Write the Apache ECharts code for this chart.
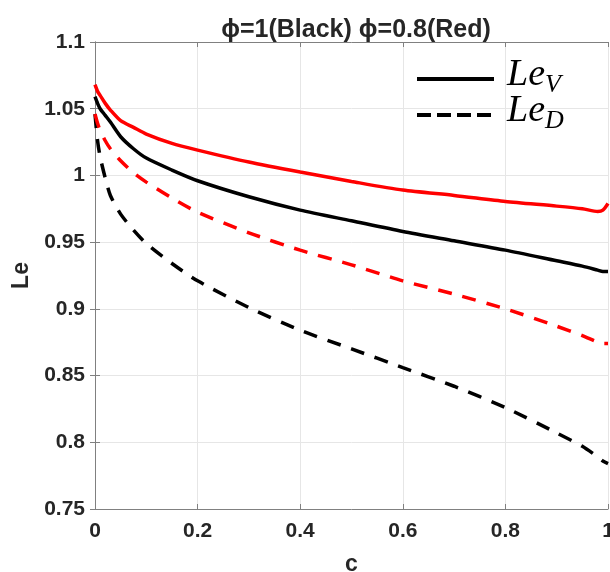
<!DOCTYPE html>
<html>
<head>
<meta charset="utf-8">
<script src="https://cdn.jsdelivr.net/npm/echarts@6/dist/echarts.min.js"></script>
<style>
  html, body { margin: 0; padding: 0; background: #fff; }
  #main { width: 610px; height: 572px; }
</style>
</head>
<body>
<div id="main"></div>
<script>
// c values shared by all curves
var cVals = [0, 0.005, 0.01, 0.02, 0.03, 0.05, 0.075, 0.1, 0.15, 0.2, 0.3, 0.4, 0.5, 0.6, 0.7, 0.8, 0.9, 0.95, 0.98, 0.99, 1.0];
// phi = 1 (black)
var leV_phi1 = [1.059, 1.054, 1.050, 1.045, 1.040, 1.029, 1.020, 1.013, 1.004, 0.996, 0.984, 0.974, 0.966, 0.958, 0.951, 0.944, 0.936, 0.932, 0.929, 0.928, 0.928];
var leD_phi1 = [1.046, 1.026, 1.014, 0.998, 0.985, 0.971, 0.959, 0.949, 0.934, 0.921, 0.901, 0.884, 0.870, 0.856, 0.842, 0.826, 0.807, 0.797, 0.789, 0.786, 0.784];
// phi = 0.8 (red)
var leV_phi08 = [1.068, 1.063, 1.060, 1.054, 1.049, 1.041, 1.036, 1.031, 1.024, 1.019, 1.010, 1.0025, 0.9955, 0.989, 0.985, 0.9805, 0.977, 0.975, 0.973, 0.974, 0.979];
var leD_phi08 = [1.046, 1.039, 1.034, 1.026, 1.020, 1.011, 1.002, 0.995, 0.983, 0.9725, 0.957, 0.944, 0.933, 0.921, 0.911, 0.900, 0.887, 0.880, 0.875, 0.874, 0.874];

var xTicks = [0, 0.2, 0.4, 0.6, 0.8, 1];

function pairs(ys) {
    return cVals.map(function (c, i) { return [c, ys[i]]; });
}

var txt = '#262626';
var axisCol = '#808080';
var gridCol = '#e6e6e6';
var font = 'Liberation Sans';

function mkSeries(name, ys, color, dashed) {
    return {
        name: name,
        type: 'line',
        data: pairs(ys),
        symbol: 'none',
        smooth: 0.25,
        lineStyle: { color: color, width: 3.5, type: dashed ? [14, 11] : 'solid', cap: 'butt' },
        itemStyle: { color: color },
        z: 3
    };
}

var myChart = echarts.init(document.getElementById('main'));
var option = {
    backgroundColor: '#fff',
    animation: false,
    title: {
        text: 'ϕ=1(Black) ϕ=0.8(Red)',
        left: 351, top: 13, textAlign: 'center',
        textStyle: { fontFamily: font, fontWeight: 'bold', fontSize: 25, color: txt }
    },
    legend: {
        data: [
            { name: 'LeV', lineStyle: { width: 4, type: 'solid' } },
            { name: 'LeD', lineStyle: { width: 4, type: [14, 6] } }
        ],
        orient: 'vertical',
        left: 410, top: 51,
        itemWidth: 77, itemHeight: 14, itemGap: -6,
        itemStyle: { opacity: 0 },
        formatter: function (n) { return '{a|Le}{b|' + n.slice(2) + '}'; },
        textStyle: {
            padding: [0, 0, 0, 8],
            rich: {
                a: { fontFamily: 'Liberation Serif', fontStyle: 'italic', fontSize: 38, lineHeight: 38, padding: [0, 0, 4, 0], verticalAlign: 'bottom', color: '#000' },
                b: { fontFamily: 'Liberation Serif', fontStyle: 'italic', fontSize: 26, lineHeight: 26, verticalAlign: 'bottom', color: '#000' }
            }
        }
    },
    grid: { left: 95, right: 2, top: 42, bottom: 63, containLabel: false, outerBoundsMode: 'none' },
    xAxis: [{
        type: 'value', min: 0, max: 1, interval: 0.2,
        name: 'c', nameLocation: 'middle', nameGap: 44,
        nameTextStyle: { fontFamily: font, fontWeight: 'bold', fontSize: 23, color: txt },
        axisLine: { lineStyle: { color: axisCol, width: 1 } },
        axisTick: { inside: true, length: 5, lineStyle: { color: axisCol } },
        axisLabel: { fontFamily: font, fontWeight: 'bold', fontSize: 21, color: txt, margin: 12,
            formatter: function (v) { return xTicks.indexOf(v) >= 0 ? String(v) : ''; } },
        splitLine: { show: true, lineStyle: { color: gridCol } }
    }, {
        type: 'value', min: 0, max: 1, interval: 0.2, position: 'top',
        axisLine: { lineStyle: { color: axisCol, width: 1 } },
        axisTick: { inside: true, length: 5, lineStyle: { color: axisCol } },
        axisLabel: { show: false }, splitLine: { show: false }
    }],
    yAxis: [{
        type: 'value', min: 0.75, max: 1.1, interval: 0.05,
        name: 'Le', nameLocation: 'middle', nameGap: 55, nameRotate: 90,
        nameTextStyle: { fontFamily: font, fontWeight: 'bold', fontSize: 23, color: txt },
        axisLine: { show: true, lineStyle: { color: axisCol, width: 1 } },
        axisTick: { show: true, inside: true, length: 5, lineStyle: { color: axisCol } },
        axisLabel: { fontFamily: font, fontWeight: 'bold', fontSize: 21, color: txt, margin: 10,
            formatter: function (v) { return String(Math.round(v * 100) / 100); } },
        splitLine: { show: true, lineStyle: { color: gridCol } }
    }, {
        type: 'value', min: 0.75, max: 1.1, interval: 0.05, position: 'right',
        axisLine: { show: true, lineStyle: { color: axisCol, width: 1 } },
        axisTick: { show: true, inside: true, length: 5, lineStyle: { color: axisCol } },
        axisLabel: { show: false }, splitLine: { show: false }
    }],
    series: [
        mkSeries('LeV', leV_phi1, '#000000', false),
        mkSeries('LeD', leD_phi1, '#000000', true),
        mkSeries('LeV φ=0.8', leV_phi08, '#ff0000', false),
        mkSeries('LeD φ=0.8', leD_phi08, '#ff0000', true)
    ]
};
myChart.setOption(option);
</script>
</body>
</html>
